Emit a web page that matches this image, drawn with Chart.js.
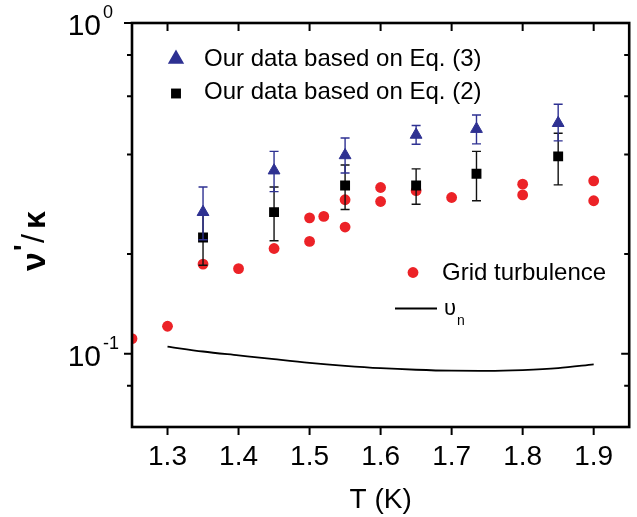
<!DOCTYPE html>
<html>
<head>
<meta charset="utf-8">
<script src="https://cdn.jsdelivr.net/npm/chart.js@4.4.1/dist/chart.umd.min.js"></script>
<style>
  html, body { margin: 0; padding: 0; background: #fff; }
  #wrap { width: 637px; height: 517px; }
</style>
</head>
<body>
<div id="wrap"><canvas id="nuChart"></canvas></div>
<script>
// values (T in K, nu'/kappa on a log axis)
const eqTemps = [1.35, 1.45, 1.55, 1.65, 1.735, 1.85];

const eq3Values = [0.268, 0.358, 0.398, 0.459, 0.478, 0.498];
const eq3High = [0.319, 0.409, 0.449, 0.490, 0.527, 0.568];
const eq3Low = [0.221, 0.309, 0.352, 0.430, 0.431, 0.440];

const eq2Values = [0.2245, 0.268, 0.3225, 0.3225, 0.350, 0.395];
const eq2High = [0.265, 0.319, 0.372, 0.362, 0.409, 0.464];
const eq2Low = [0.185, 0.2195, 0.273, 0.283, 0.290, 0.324];

const gridTemps = [1.25, 1.30, 1.35, 1.40, 1.45, 1.50, 1.50, 1.52, 1.55, 1.55,
                   1.60, 1.60, 1.65, 1.70, 1.80, 1.80, 1.90, 1.90];
const gridValues = [0.111, 0.121, 0.1866, 0.1807, 0.208, 0.2575, 0.2185, 0.26, 0.292, 0.2415,
                    0.318, 0.2885, 0.311, 0.2967, 0.3256, 0.302, 0.333, 0.29];

const nuTemps = [1.30, 1.35, 1.40, 1.45, 1.50, 1.55, 1.60, 1.65, 1.70, 1.75, 1.80, 1.85, 1.90];
const nuValues = [0.105, 0.1015, 0.0988, 0.0962, 0.0938, 0.0919, 0.0904, 0.0894, 0.0888, 0.0887, 0.0892, 0.0904, 0.0928];

const xTicks = [1.3, 1.4, 1.5, 1.6, 1.7, 1.8, 1.9];
const yMajorTicks = [0.1, 1];
const yMinorTicks = [0.08, 0.2, 0.4, 0.6, 0.8];

const FONT = "'Liberation Sans', Arial, sans-serif";
const BLUE = '#2E3192';
const RED = '#EC2227';

const toPoints = (xs, ys) => xs.map((x, i) => ({ x: x, y: ys[i] }));

// vertical error bars, drawn just before each dataset's markers
const errorBars = {
    id: 'errorBars',
    beforeDatasetDraw(chart, args) {
        const ds = chart.data.datasets[args.index];
        if (!ds.errLow) return;
        const { ctx, scales: { x, y } } = chart;
        ctx.save();
        ctx.strokeStyle = ds.errColor;
        ctx.lineWidth = 1.4;
        ds.data.forEach((p, i) => {
            const px = x.getPixelForValue(p.x);
            const top = y.getPixelForValue(ds.errHigh[i]);
            const bot = y.getPixelForValue(ds.errLow[i]);
            ctx.beginPath();
            ctx.moveTo(px, top); ctx.lineTo(px, bot);
            ctx.moveTo(px - 4.5, top); ctx.lineTo(px + 4.5, top);
            ctx.moveTo(px - 4.5, bot); ctx.lineTo(px + 4.5, bot);
            ctx.stroke();
        });
        ctx.restore();
    }
};

// box, ticks on all sides, y labels with exponents, y title, legend
const frame = {
    id: 'frame',
    afterDraw(chart) {
        const { ctx, chartArea: a, scales: { x, y } } = chart;
        ctx.save();
        ctx.strokeStyle = '#000';
        ctx.fillStyle = '#000';

        // ticks
        ctx.lineWidth = 2;
        ctx.beginPath();
        xTicks.forEach(v => {
            const px = x.getPixelForValue(v);
            ctx.moveTo(px, a.bottom); ctx.lineTo(px, a.bottom + 8);
            ctx.moveTo(px, a.top); ctx.lineTo(px, a.top + 8);
        });
        const yTick = (v, len) => {
            const py = y.getPixelForValue(v);
            ctx.moveTo(a.left - len, py); ctx.lineTo(a.left, py);
            ctx.moveTo(a.right - len, py); ctx.lineTo(a.right, py);
        };
        yMajorTicks.forEach(v => yTick(v, 8));
        yMinorTicks.forEach(v => yTick(v, 5));
        ctx.stroke();

        // box
        ctx.lineWidth = 2.6;
        ctx.strokeRect(a.left, a.top, a.right - a.left, a.bottom - a.top);

        // y labels 10^n
        yMajorTicks.forEach(v => {
            const py = y.getPixelForValue(v);
            ctx.font = '30px ' + FONT;
            ctx.textAlign = 'right';
            ctx.textBaseline = 'alphabetic';
            ctx.fillText('10', 101, py + 12);
            ctx.font = '18px ' + FONT;
            ctx.textAlign = 'left';
            ctx.fillText(String(Math.round(Math.log10(v))), 103, py - 5);
        });

        // y title  nu'/kappa
        ctx.save();
        ctx.translate(45, 271);
        ctx.rotate(-Math.PI / 2);
        ctx.textAlign = 'left';
        ctx.font = 'bold 34px ' + FONT;
        ctx.fillText('\u03BD', 0, 0);
        ctx.font = 'bold 28px ' + FONT;
        ctx.fillText("'", 20, -12);
        ctx.font = '32px ' + FONT;
        ctx.fillText('/', 28, -1);
        ctx.font = 'bold 32px ' + FONT;
        ctx.fillText('\u03BA', 42, 0);
        ctx.restore();

        // legend
        const ds = chart.data.datasets;
        const marker = (d, mx, my) => {
            ctx.fillStyle = d.pointBackgroundColor;
            ctx.strokeStyle = d.pointBorderColor;
            Chart.helpers.drawPoint(ctx, {
                pointStyle: d.pointStyle, radius: d.pointRadius,
                rotation: 0, borderWidth: d.pointBorderWidth
            }, mx, my);
        };
        ctx.textAlign = 'left';
        ctx.textBaseline = 'alphabetic';
        marker(ds[0], 176, 59);
        marker(ds[1], 176, 93.5);
        marker(ds[2], 413, 272.5);
        ctx.fillStyle = '#000';
        ctx.font = '24px ' + FONT;
        ctx.fillText(ds[0].label, 204, 66);
        ctx.fillText(ds[1].label, 204, 99);
        ctx.fillText(ds[2].label, 442, 280);

        ctx.lineWidth = 1.8;
        ctx.strokeStyle = '#000';
        ctx.beginPath();
        ctx.moveTo(395, 308.5); ctx.lineTo(437, 308.5);
        ctx.stroke();
        ctx.font = '22px ' + FONT;
        ctx.fillText('\u03C5', 444, 315);
        ctx.font = '14px ' + FONT;
        ctx.fillText('n', 457, 325);

        ctx.restore();
    }
};

new Chart(document.getElementById('nuChart'), {
    type: 'scatter',
    data: {
        datasets: [{
            label: 'Our data based on Eq. (3)',
            data: toPoints(eqTemps, eq3Values),
            errHigh: eq3High,
            errLow: eq3Low,
            errColor: BLUE,
            pointStyle: 'triangle',
            pointRadius: 6.8,
            pointBackgroundColor: BLUE,
            pointBorderColor: BLUE,
            pointBorderWidth: 1
        }, {
            label: 'Our data based on Eq. (2)',
            data: toPoints(eqTemps, eq2Values),
            errHigh: eq2High,
            errLow: eq2Low,
            errColor: '#111',
            pointStyle: 'rect',
            pointRadius: 7,
            pointBackgroundColor: '#000',
            pointBorderColor: '#000',
            pointBorderWidth: 0
        }, {
            label: 'Grid turbulence',
            data: toPoints(gridTemps, gridValues),
            pointStyle: 'circle',
            pointRadius: 5.4,
            pointBackgroundColor: RED,
            pointBorderColor: RED,
            pointBorderWidth: 0,
            clip: 0
        }, {
            label: '\u03C5n',
            data: toPoints(nuTemps, nuValues),
            showLine: true,
            borderColor: '#000',
            borderWidth: 1.8,
            pointRadius: 0,
            tension: 0.4,
            cubicInterpolationMode: 'monotone'
        }]
    },
    options: {
        responsive: true,
        maintainAspectRatio: false,
        animation: false,
        layout: { padding: { top: 23, right: 5, left: 0, bottom: 0 } },
        plugins: {
            legend: { display: false },
            tooltip: { enabled: false }
        },
        scales: {
            x: {
                type: 'linear',
                min: 1.25,
                max: 1.95,
                afterBuildTicks: scale => { scale.ticks = xTicks.map(v => ({ value: v })); },
                afterFit: scale => { scale.height = 90; },
                grid: { display: false },
                border: { display: false },
                ticks: {
                    padding: 5,
                    color: '#000',
                    font: { family: FONT, size: 28 },
                    maxRotation: 0,
                    callback: v => v.toFixed(1)
                },
                title: {
                    display: true,
                    text: 'T (K)',
                    color: '#000',
                    font: { family: FONT, size: 28 },
                    padding: 0
                }
            },
            y: {
                type: 'logarithmic',
                min: 0.06,
                max: 1,
                afterBuildTicks: scale => {
                    scale.ticks = yMinorTicks.concat(yMajorTicks).sort((p, q) => p - q).map(v => ({ value: v }));
                },
                afterFit: scale => { scale.width = 132; },
                grid: { display: false },
                border: { display: false },
                ticks: { display: false }
            }
        }
    },
    plugins: [errorBars, frame]
});
</script>
</body>
</html>
